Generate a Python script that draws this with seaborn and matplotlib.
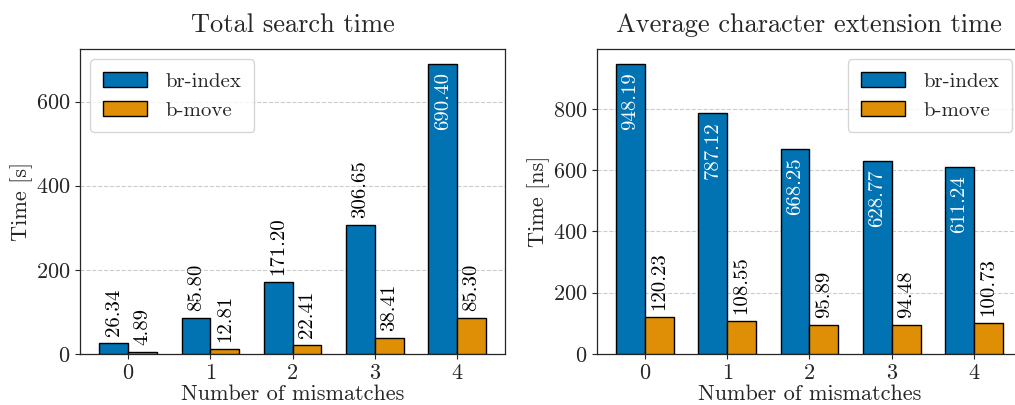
import pandas as pd
import matplotlib.pyplot as plt
import seaborn as sns

# data
mismatches = [0, 1, 2, 3, 4]
methods = ['br-index', 'b-move']
br_total = [26.34, 85.80, 171.20, 306.65, 690.40]
bmove_total = [4.89, 12.81, 22.41, 38.41, 85.30]
br_ext = [948.19, 787.12, 668.25, 628.77, 611.24]
bmove_ext = [120.23, 108.55, 95.89, 94.48, 100.73]

sns.set_style('ticks')
plt.rcParams['font.family'] = ['serif']
plt.rcParams['font.serif'] = ['cmr10']
plt.rcParams['mathtext.fontset'] = 'cm'
plt.rcParams['axes.unicode_minus'] = False
plt.rcParams['axes.formatter.use_mathtext'] = True


def make_frame(br, bm):
    rows = []
    for m, v in zip(mismatches, br):
        rows.append({'mismatches': m, 'time': v, 'method': methods[0]})
    for m, v in zip(mismatches, bm):
        rows.append({'mismatches': m, 'time': v, 'method': methods[1]})
    return pd.DataFrame(rows)


def draw_panel(ax, df, title, ylabel, legend_loc):
    sns.barplot(data=df, x='mismatches', y='time', hue='method',
                palette='colorblind', width=0.7, saturation=1,
                edgecolor='black', linewidth=1, ax=ax, zorder=3)
    ax.grid(axis='y', linestyle='--', color='#cccccc', linewidth=0.8, zorder=0)
    ax.set_axisbelow(True)
    ymax = max(df['time'])
    for cont in ax.containers:
        for bar, val in zip(cont, cont.datavalues):
            x = bar.get_x() + bar.get_width() / 2
            h = bar.get_height()
            if val > 0.5 * ymax:
                ax.annotate(f'{val:.2f}', (x, h), xytext=(0, -6),
                            textcoords='offset points', rotation=90,
                            ha='center', va='top', color='white', fontsize=15)
            else:
                ax.annotate(f'{val:.2f}', (x, h), xytext=(0, 5),
                            textcoords='offset points', rotation=90,
                            ha='center', va='bottom', color='black', fontsize=15)
    ax.set_title(title, fontsize=19, pad=12)
    ax.set_xlabel('Number of mismatches', fontsize=16, labelpad=1)
    ax.set_ylabel(ylabel, fontsize=16, labelpad=2)
    ax.tick_params(labelsize=16)
    ax.set_xlim(-0.585, 4.585)
    ax.set_ylim(0, ymax * 1.05)
    ax.legend(loc=legend_loc, fontsize=15, handlelength=2.1, handletextpad=0.9,
              borderpad=0.6, title=None)
    for s in ax.spines.values():
        s.set_visible(True)
        s.set_linewidth(0.9)


fig, axes = plt.subplots(1, 2, figsize=(10.15, 4.05), dpi=100)
fig.subplots_adjust(left=0.0788, right=1.007, bottom=0.126, top=0.879, wspace=0.215)

draw_panel(axes[0], make_frame(br_total, bmove_total), 'Total search time', 'Time [s]', 'upper left')
draw_panel(axes[1], make_frame(br_ext, bmove_ext), 'Average character extension time', 'Time [ns]', 'upper right')

fig.savefig('out.png', dpi=100)
